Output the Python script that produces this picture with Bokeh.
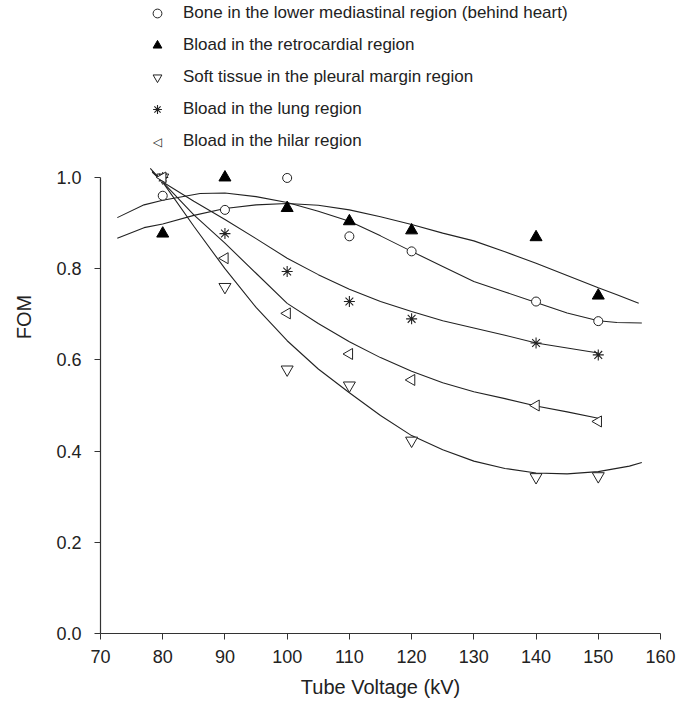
import math
from bokeh.plotting import figure
from bokeh.models import (FixedTicker, NumeralTickFormatter, Range1d, ColumnDataSource,
                          Label, LegendItem)
from bokeh.embed import file_html
from bokeh.resources import INLINE

# ---- measured data ----
kv = [80, 90, 100, 110, 120, 140, 150]
bone = [0.960, 0.929, 0.999, 0.871, 0.838, 0.728, 0.685]
retro = [0.877, 1.000, 0.933, 0.904, 0.884, 0.869, 0.741]
soft = [1.000, 0.760, 0.579, 0.544, 0.423, 0.343, 0.345]
lung = [1.000, 0.877, 0.794, 0.728, 0.690, 0.637, 0.611]
hilar = [1.000, 0.823, 0.702, 0.613, 0.556, 0.500, 0.465]

# fitted curves
bone_fit_x = [72.7, 77, 80, 86, 90, 95, 100, 105, 110, 115, 120, 125, 130, 135, 140, 145, 150, 153, 157]
bone_fit_y = [0.912, 0.940, 0.950, 0.965, 0.966, 0.958, 0.945, 0.926, 0.904, 0.872, 0.838, 0.805, 0.772, 0.749, 0.726, 0.703, 0.686, 0.682, 0.681]
retro_fit_x = [72.7, 77, 80, 85, 90, 95, 100, 105, 110, 115, 120, 125, 130, 135, 140, 145, 150, 153, 156.5]
retro_fit_y = [0.867, 0.890, 0.898, 0.917, 0.932, 0.940, 0.943, 0.939, 0.929, 0.914, 0.897, 0.878, 0.861, 0.837, 0.812, 0.785, 0.758, 0.743, 0.724]
lung_fit_x = [78.3, 80, 85, 90, 95, 100, 105, 110, 115, 120, 125, 130, 135, 140, 145, 150]
lung_fit_y = [1.012, 0.990, 0.948, 0.908, 0.866, 0.823, 0.787, 0.755, 0.728, 0.706, 0.686, 0.670, 0.654, 0.637, 0.626, 0.615]
hilar_fit_x = [78.3, 80, 85, 90, 95, 100, 105, 110, 115, 120, 125, 130, 135, 140, 145, 150]
hilar_fit_y = [1.014, 0.990, 0.918, 0.856, 0.790, 0.724, 0.680, 0.640, 0.605, 0.575, 0.550, 0.530, 0.515, 0.499, 0.486, 0.472]
soft_fit_x = [78, 80, 85, 90, 95, 100, 105, 110, 115, 120, 125, 130, 135, 140, 145, 150, 155, 157]
soft_fit_y = [1.020, 0.990, 0.893, 0.800, 0.715, 0.642, 0.580, 0.528, 0.478, 0.434, 0.403, 0.378, 0.362, 0.352, 0.350, 0.355, 0.367, 0.375]

x_ticks = [70, 80, 90, 100, 110, 120, 130, 140, 150, 160]
y_ticks = [0.0, 0.2, 0.4, 0.6, 0.8, 1.0]

labels = [
    "Bone in the lower mediastinal region (behind heart)",
    "Bload in the retrocardial region",
    "Soft tissue in the pleural margin region",
    "Bload in the lung region",
    "Bload in the hilar region",
]

FONT = "Liberation Sans"
INK = "#222222"

p = figure(width=686, height=703, output_backend="svg", toolbar_location=None,
           x_range=Range1d(70, 160), y_range=Range1d(0, 633 / 456))
p.min_border_left = 100
p.min_border_right = 26
p.min_border_top = 0
p.min_border_bottom = 70
p.outline_line_color = None
p.grid.visible = False
p.background_fill_color = "white"
p.border_fill_color = "white"

for ax in (p.xaxis[0], p.yaxis[0]):
    ax.axis_line_color = "#333333"
    ax.axis_line_width = 1.2
    ax.major_tick_line_color = "#333333"
    ax.major_tick_in = 0
    ax.major_tick_out = 6
    ax.minor_tick_line_color = None
    ax.major_label_text_font = FONT
    ax.major_label_text_font_size = "18px"
    ax.major_label_text_color = INK
    ax.axis_label_text_font = FONT
    ax.axis_label_text_font_size = "20px"
    ax.axis_label_text_font_style = "normal"
    ax.axis_label_text_color = INK

p.xaxis[0].ticker = FixedTicker(ticks=x_ticks)
p.yaxis[0].ticker = FixedTicker(ticks=y_ticks)
p.yaxis[0].formatter = NumeralTickFormatter(format="0.0")
p.xaxis[0].bounds = (70, 160)
p.yaxis[0].bounds = (0, 1.0)
p.xaxis[0].axis_label = "Tube Voltage (kV)"
p.yaxis[0].axis_label = "FOM"
p.xaxis[0].major_label_standoff = 10
p.xaxis[0].axis_label_standoff = 10
p.yaxis[0].major_label_standoff = 13
p.yaxis[0].axis_label_standoff = 18

# curves
for fx, fy in [(bone_fit_x, bone_fit_y), (retro_fit_x, retro_fit_y), (lung_fit_x, lung_fit_y),
               (hilar_fit_x, hilar_fit_y), (soft_fit_x, soft_fit_y)]:
    p.line(fx, fy, line_color=INK, line_width=1.1)

# markers
r_bone = p.scatter(kv, bone, marker="circle", size=9, fill_color="white", line_color=INK, line_width=1)
r_retro = p.scatter(kv, retro, marker="triangle", size=12, fill_color="black", line_color="black")
r_soft = p.scatter(kv, soft, marker="inverted_triangle", size=12, fill_color="white", line_color=INK,
                   line_width=1)
r_lung = p.scatter(kv, lung, marker="asterisk", size=11, line_color=INK, line_width=1.1)
hilar_src = ColumnDataSource(dict(x=kv, y=hilar, ang=[math.pi / 2] * len(kv)))
r_hilar = p.scatter("x", "y", source=hilar_src, marker="triangle", angle="ang", size=11,
                    fill_color="white", line_color=INK, line_width=1)
# legend placeholder renderer for the hilar item (its symbol is drawn as a label below)
r_hilar_key = p.text(x=[], y=[], text=[])

from bokeh.models import Legend
lg = Legend(items=[
    LegendItem(label=labels[0], renderers=[r_bone]),
    LegendItem(label=labels[1], renderers=[r_retro]),
    LegendItem(label=labels[2], renderers=[r_soft]),
    LegendItem(label=labels[3], renderers=[r_lung]),
    LegendItem(label=labels[4], renderers=[r_hilar_key]),
])
lg.location = (46, 481)
lg.border_line_color = None
lg.background_fill_alpha = 0
lg.padding = 0
lg.margin = 0
lg.glyph_width = 22
lg.glyph_height = 22
lg.spacing = 10
lg.label_standoff = 15
lg.label_text_font = FONT
lg.label_text_font_size = "17px"
lg.label_text_color = INK
p.add_layout(lg, "center")

# left-pointing triangle symbol for the hilar legend entry
p.add_layout(Label(x=57, y=492, x_units="screen", y_units="screen", text="\u25C1",
                   text_font="DejaVu Sans", text_font_size="12px", text_color=INK,
                   text_align="center", text_baseline="middle"))

open("out.html", "w").write(file_html(p, INLINE))
